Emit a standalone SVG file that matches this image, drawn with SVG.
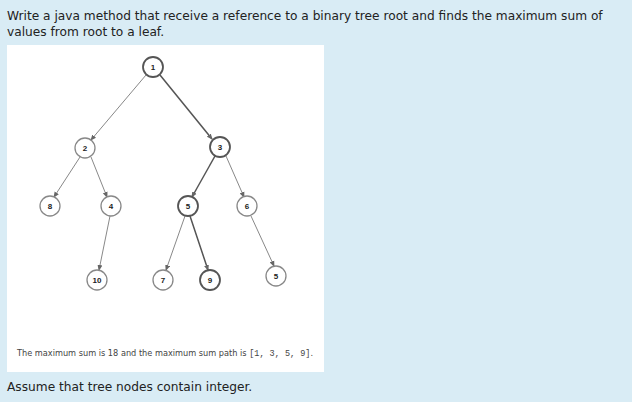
<svg xmlns="http://www.w3.org/2000/svg" width="632" height="402" viewBox="0 0 632 402">
<style>
.t{font-family:"DejaVu Sans",sans-serif;font-size:12.2px;fill:#222}
.n circle{fill:#fff;stroke:#888;stroke-width:1.3}
.n.b circle{stroke:#555;stroke-width:1.8}
.n text{font-family:"Liberation Sans",Arial,sans-serif;font-size:8px;font-weight:bold;text-anchor:middle;fill:#222}
.e{stroke:#888;stroke-width:1;marker-end:url(#a)}
.e.b{stroke:#555;stroke-width:1.5}
</style>
<defs><marker id="a" markerWidth="6" markerHeight="6" refX="5" refY="3" orient="auto" markerUnits="userSpaceOnUse"><path d="M0,0.5 L6,3 L0,5.5z" fill="#666"/></marker></defs>
<rect width="632" height="402" fill="#d9ecf5"/>
<text class="t" x="7" y="20">Write a java method that receive a reference to a binary tree root and finds the maximum sum of</text>
<text class="t" x="7" y="36">values from root to a leaf.</text>
<rect x="7" y="45" width="317" height="327" fill="#fff"/>
<g id="edges">
<line class="e" x1="146" y1="75" x2="91" y2="140"/>
<line class="e b" x1="160" y1="75" x2="212" y2="139"/>
<line class="e" x1="80" y1="157" x2="54" y2="197"/>
<line class="e" x1="91" y1="157" x2="107" y2="197"/>
<line class="e b" x1="215" y1="156" x2="192" y2="197"/>
<line class="e" x1="226" y1="156" x2="244" y2="197"/>
<line class="e" x1="110" y1="216" x2="99" y2="270"/>
<line class="e" x1="185" y1="216" x2="166" y2="270"/>
<line class="e b" x1="190" y1="216" x2="208" y2="270"/>
<line class="e" x1="251" y1="216" x2="274" y2="266"/>
</g>
<g id="n1" class="n b"><circle cx="153" cy="67" r="10"/><text x="153" y="70">1</text></g>
<g id="n2" class="n"><circle cx="85" cy="148" r="10"/><text x="85" y="151">2</text></g>
<g id="n3" class="n b"><circle cx="220" cy="147" r="10"/><text x="220" y="150">3</text></g>
<g id="n8" class="n"><circle cx="50" cy="206" r="10"/><text x="50" y="209">8</text></g>
<g id="n4" class="n"><circle cx="111" cy="206" r="10"/><text x="111" y="209">4</text></g>
<g id="n5" class="n b"><circle cx="188" cy="206" r="10"/><text x="188" y="209">5</text></g>
<g id="n6" class="n"><circle cx="247" cy="206" r="10"/><text x="247" y="209">6</text></g>
<g id="n10" class="n"><circle cx="97" cy="280" r="10"/><text x="97" y="283">10</text></g>
<g id="n7" class="n"><circle cx="163" cy="280" r="10"/><text x="163" y="283">7</text></g>
<g id="n9" class="n b"><circle cx="210" cy="280" r="10"/><text x="210" y="283">9</text></g>
<g id="n5b" class="n"><circle cx="276" cy="276" r="10"/><text x="276" y="279">5</text></g>
<text x="17" y="356" style="font-family:'DejaVu Sans',sans-serif;font-size:8.2px;fill:#444">The maximum sum is 18 and the maximum sum path is <tspan style="font-family:'Liberation Mono',monospace;font-size:8.5px">[1, 3, 5, 9]</tspan>.</text>
<text class="t" x="7" y="391">Assume that tree nodes contain integer.</text>
</svg>
